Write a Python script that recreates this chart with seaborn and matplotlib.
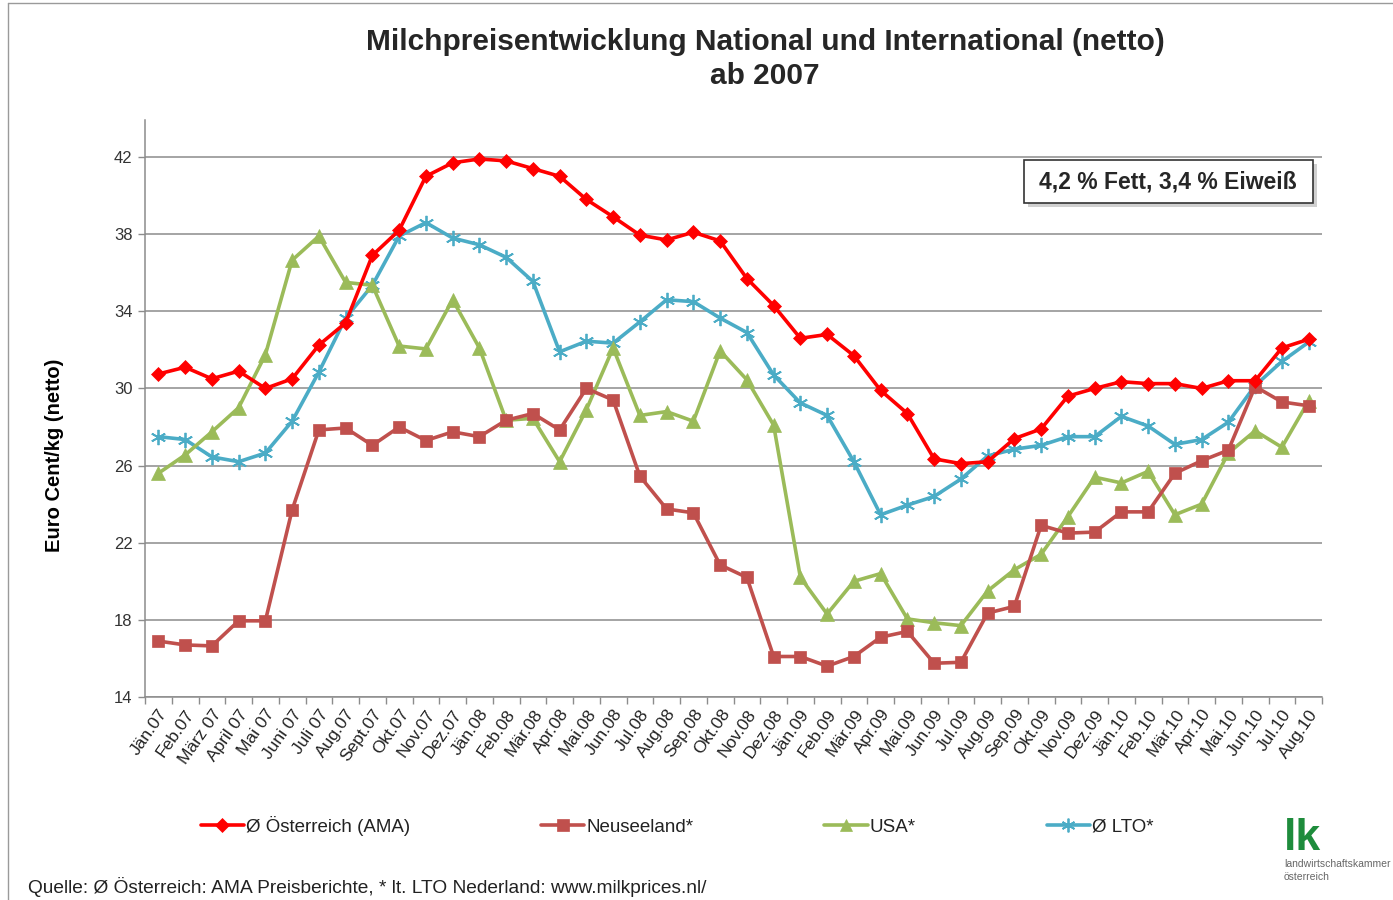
import numpy as np
import pandas as pd
import matplotlib
matplotlib.use("Agg")
import matplotlib.pyplot as plt
import seaborn as sns
from matplotlib.lines import Line2D

months = ["Jän.07", "Feb.07", "März 07", "April 07", "Mai 07", "Juni 07", "Juli 07", "Aug.07",
          "Sept.07", "Okt.07", "Nov.07", "Dez.07", "Jän.08", "Feb.08", "Mär.08", "Apr.08",
          "Mai.08", "Jun.08", "Jul.08", "Aug.08", "Sep.08", "Okt.08", "Nov.08", "Dez.08",
          "Jän.09", "Feb.09", "Mär.09", "Apr.09", "Mai.09", "Jun.09", "Jul.09", "Aug.09",
          "Sep.09", "Okt.09", "Nov.09", "Dez.09", "Jän.10", "Feb.10", "Mär.10", "Apr.10",
          "Mai.10", "Jun.10", "Jul.10", "Aug.10"]

oesterreich = [30.75, 31.1, 30.5, 30.9, 30.0, 30.5, 32.25, 33.4, 36.9, 38.2, 41.0, 41.7,
               41.9, 41.8, 41.4, 41.0, 39.8, 38.9, 37.95, 37.7, 38.1, 37.65, 35.7, 34.3,
               32.6, 32.8, 31.7, 29.9, 28.7, 26.35, 26.1, 26.2, 27.4, 27.9, 29.6, 30.0,
               30.35, 30.25, 30.25, 30.0, 30.4, 30.4, 32.1, 32.55]
neuseeland = [16.9, 16.7, 16.65, 17.95, 17.95, 23.7, 27.85, 27.95, 27.05, 28.0, 27.3, 27.75,
              27.5, 28.35, 28.7, 27.85, 30.0, 29.4, 25.45, 23.75, 23.55, 20.85, 20.2, 16.1,
              16.1, 15.6, 16.1, 17.1, 17.4, 15.75, 15.8, 18.35, 18.7, 22.9, 22.5, 22.55,
              23.6, 23.6, 25.6, 26.25, 26.8, 30.1, 29.3, 29.1]
usa = [25.6, 26.55, 27.75, 29.0, 31.75, 36.65, 37.9, 35.5, 35.35, 32.2, 32.05, 34.6,
       32.1, 28.35, 28.45, 26.2, 28.9, 32.1, 28.6, 28.8, 28.3, 31.95, 30.45, 28.1,
       20.2, 18.3, 20.0, 20.4, 18.05, 17.85, 17.7, 19.5, 20.6, 21.4, 23.35, 25.4,
       25.1, 25.7, 23.45, 24.0, 26.65, 27.8, 26.95, 29.35]
lto = [27.5, 27.35, 26.45, 26.2, 26.65, 28.3, 30.85, 33.65, 35.35, 37.9, 38.6, 37.8,
       37.45, 36.8, 35.55, 31.9, 32.45, 32.35, 33.45, 34.6, 34.5, 33.65, 32.9, 30.7,
       29.25, 28.6, 26.2, 23.45, 23.95, 24.4, 25.3, 26.5, 26.85, 27.05, 27.5, 27.5,
       28.55, 28.05, 27.1, 27.35, 28.25, 30.15, 31.4, 32.4]

series_names = ["Ø Österreich (AMA)", "Neuseeland*", "USA*", "Ø LTO*"]
yticks = [14, 18, 22, 26, 30, 34, 38, 42]

sns.set_theme(style="white")
plt.rcParams['font.family'] = ['Liberation Sans', 'DejaVu Sans']

fig = plt.figure(figsize=(13.93, 9.0), dpi=100)
ax = fig.add_axes([145/1393, 1-697/900, (1322-145)/1393, (697-120)/900])

x = np.arange(len(months))
styles = [
    dict(color="#FF0000", marker="D", markersize=7.5, data=oesterreich),
    dict(color="#C0504D", marker="s", markersize=9, data=neuseeland),
    dict(color="#9BBB59", marker="^", markersize=9.5, data=usa),
    dict(color="#4BACC6", marker=(6, 2, 0), markersize=11, data=lto),
]
order = [3, 2, 1, 0]
handles = [None]*4
for i in order:
    st = styles[i]
    sns.lineplot(x=x, y=st["data"], ax=ax, color=st["color"], linewidth=2.6,
                 marker=st["marker"], markersize=st["markersize"],
                 markeredgecolor=st["color"], markeredgewidth=1.3 if i == 3 else 0.5,
                 zorder=3 + (3 - i))
    handles[i] = Line2D([], [], color=st["color"], linewidth=2.6, marker=st["marker"],
                        markersize=st["markersize"]*0.9, markeredgecolor=st["color"],
                        markeredgewidth=1.3 if i == 3 else 0.5)

ax.set_xlim(-0.5, len(months) - 0.5)
ax.set_ylim(14, 43.92)
ax.set_yticks(yticks)
ax.set_yticklabels([str(t) for t in yticks], fontsize=12, color="#333333")
ax.yaxis.grid(True, color="#8c8c8c", linewidth=1.1)
ax.xaxis.grid(False)

ax.set_xticks(x)
ax.set_xticklabels(months, rotation=55, ha="right", rotation_mode="anchor",
                   fontsize=12.5, color="#222222")
ax.set_xticks(np.arange(-0.5, len(months), 1), minor=True)
ax.tick_params(axis="x", which="major", length=0, pad=7)
ax.tick_params(axis="x", which="minor", length=5, color="#8c8c8c", width=1, direction="out")
ax.tick_params(axis="y", which="major", length=5, color="#8c8c8c", width=1, direction="out", pad=4)
ax.xaxis.set_tick_params(bottom=True, which="minor")
ax.yaxis.set_tick_params(left=True)

for s in ["top", "right"]:
    ax.spines[s].set_visible(False)
for s in ["left", "bottom"]:
    ax.spines[s].set_color("#8c8c8c")
    ax.spines[s].set_linewidth(1.1)

ax.set_xlabel("")
fig.text(55/1393, 1-455/900, "Euro Cent/kg (netto)", rotation=90, ha="center", va="center",
         fontsize=14.5, fontweight="bold", color="black")

fig.text(765/1393, 1-42/900, "Milchpreisentwicklung National und International (netto)",
         ha="center", va="center", fontsize=21.5, fontweight="bold")
fig.text(765/1393, 1-76/900, "ab 2007", ha="center", va="center", fontsize=21.5,
         fontweight="bold")

# annotation box with shadow
fig.patches.append(plt.Rectangle((1028/1393, 1-207/900), 289/1393, 43/900,
                                 transform=fig.transFigure, facecolor="#d0d0d0",
                                 edgecolor="none", zorder=4))
fig.patches.append(plt.Rectangle((1024/1393, 1-203/900), 289/1393, 43/900,
                                 transform=fig.transFigure, facecolor="white",
                                 edgecolor="#333333", linewidth=1.2, zorder=5))
fig.text(1168/1393, 1-182/900, "4,2 % Fett, 3,4 % Eiweiß", ha="center", va="center",
         fontsize=16.5, fontweight="bold", zorder=6)

leg = fig.legend(handles, series_names, loc="center", ncol=4,
                 bbox_to_anchor=(677/1393, 1-826/900), frameon=False,
                 fontsize=13.5, handlelength=2.3, handletextpad=0.1,
                 columnspacing=7.0)
for t in leg.get_texts():
    t.set_color("#222222")

fig.text(28/1393, 1-887/900,
         "Quelle: Ø Österreich: AMA Preisberichte, * lt. LTO Nederland: www.milkprices.nl/",
         ha="left", va="center", fontsize=13.8, color="#222222")

# logo
fig.text(1284/1393, 1-838/900, "lk", ha="left", va="center", fontsize=32,
         fontweight="bold", color="#1E8C3C")
fig.text(1284/1393, 1-864/900, "landwirtschaftskammer", ha="left", va="center",
         fontsize=7.5, color="#666666")
fig.text(1284/1393, 1-877/900, "österreich", ha="left", va="center",
         fontsize=7.5, color="#666666")

# outer frame (left and top)
fig.add_artist(Line2D([8/1393, 8/1393], [0, 1-3/900], transform=fig.transFigure,
                      color="#9a9a9a", linewidth=1))
fig.add_artist(Line2D([8/1393, 1], [1-3/900, 1-3/900], transform=fig.transFigure,
                      color="#9a9a9a", linewidth=1))

fig.savefig("out.png", dpi=100)
